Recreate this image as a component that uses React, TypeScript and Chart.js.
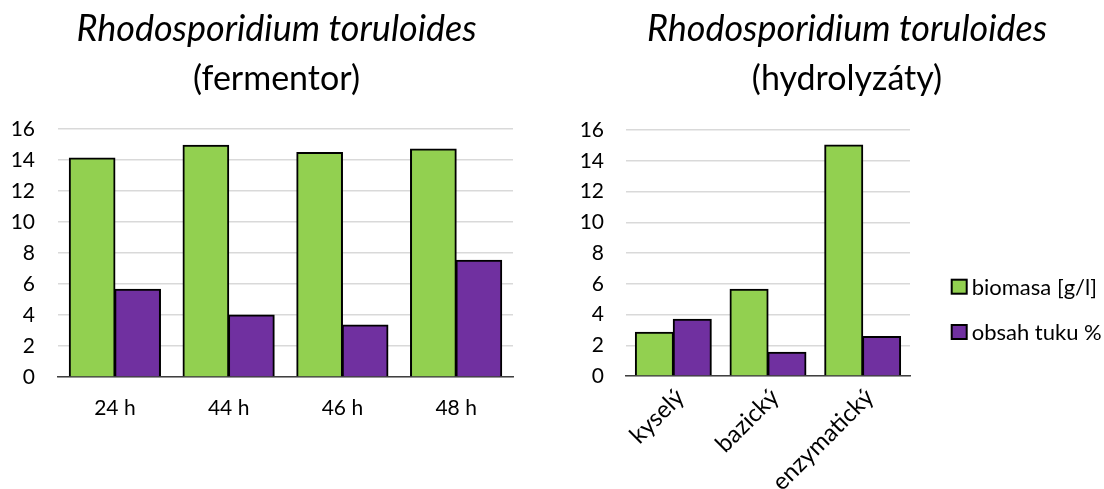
import React, { useEffect, useRef } from 'react';
import { Chart, registerables } from 'chart.js';

Chart.register(...registerables);

const FONT = 'Lato, "Open Sans", sans-serif';

// ---- data ----
const seriesNames = ['biomasa [g/l]', 'obsah tuku %'];
const seriesColors = ['#92D050', '#7030A0'];

const fermentorCategories = ['24 h', '44 h', '46 h', '48 h'];
const fermentorBiomass = [14.12, 14.94, 14.47, 14.7];
const fermentorFat = [5.65, 3.99, 3.35, 7.53];

const hydrolyzateCategories = ['kyselý', 'bazický', 'enzymatický'];
const hydrolyzateBiomass = [2.84, 5.64, 15.02];
const hydrolyzateFat = [3.69, 1.54, 2.56];

const yMin = 0;
const yMax = 16;
const yStep = 2;

const titleSpecies = 'Rhodosporidium toruloides';
const titleLeftSub = '(fermentor)';
const titleRightSub = '(hydrolyzáty)';

// ---- helpers ----
function makeTitlePlugin(cx: number, sub: string) {
  return {
    id: 'twoLineTitle',
    afterDraw(chart: any) {
      const ctx = chart.ctx;
      ctx.save();
      ctx.fillStyle = '#000000';
      ctx.textAlign = 'center';
      ctx.textBaseline = 'alphabetic';
      ctx.font = `italic 36px ${FONT}`;
      ctx.fillText(titleSpecies, cx, 41);
      ctx.font = `34px ${FONT}`;
      ctx.fillText(sub, cx, 90);
      ctx.restore();
    },
  };
}

function makeLegendPlugin(x: number, y0: number, gap: number) {
  return {
    id: 'sideLegend',
    afterDraw(chart: any) {
      const ctx = chart.ctx;
      ctx.save();
      chart.data.datasets.forEach((ds: any, i: number) => {
        const y = y0 + i * gap;
        ctx.fillStyle = ds.backgroundColor;
        ctx.fillRect(x, y - 7, 15, 14);
        ctx.strokeStyle = '#000000';
        ctx.lineWidth = 2;
        ctx.strokeRect(x, y - 7, 15, 14);
        ctx.fillStyle = '#000000';
        ctx.font = `22px ${FONT}`;
        ctx.textAlign = 'left';
        ctx.textBaseline = 'middle';
        ctx.fillText(ds.label, x + 20, y + 1);
      });
      ctx.restore();
    },
  };
}

function makeDatasets(a: number[], b: number[]) {
  return [a, b].map((data, i) => ({
    label: seriesNames[i],
    data,
    backgroundColor: seriesColors[i],
    borderColor: '#000000',
    borderWidth: 2,
    inflateAmount: 0.6,
    categoryPercentage: 0.8,
    barPercentage: 1.0,
  }));
}

function makeOptions(p: {
  yWidth: number;
  yPad: number;
  xHeight: number;
  xPad: number;
  xOffset: number;
  xFont: number;
  rotate: boolean;
  top: number;
  right: number;
}) {
  return {
    animation: false,
    responsive: false,
    maintainAspectRatio: false,
    layout: { padding: { top: p.top, right: p.right, left: 0, bottom: 0 } },
    plugins: {
      legend: { display: false },
      title: { display: false },
      tooltip: { enabled: false },
    },
    scales: {
      x: {
        grid: { display: false, drawTicks: false },
        border: { display: true, color: '#404040', width: 1.5 },
        ticks: {
          color: '#000000',
          font: { family: FONT, size: p.xFont },
          padding: p.xPad,
          labelOffset: p.xOffset,
          autoSkip: false,
          minRotation: p.rotate ? 45 : 0,
          maxRotation: p.rotate ? 45 : 0,
        },
        afterFit: (scale: any) => {
          scale.height = p.xHeight;
        },
      },
      y: {
        min: yMin,
        max: yMax,
        grid: { color: '#d9d9d9', lineWidth: 1.5, drawTicks: false },
        border: { display: false },
        ticks: {
          stepSize: yStep,
          color: '#000000',
          font: { family: FONT, size: 21 },
          padding: p.yPad,
        },
        afterFit: (scale: any) => {
          scale.width = p.yWidth;
        },
      },
    },
  };
}

function ChartCanvas(props: { left: number; width: number; height: number; build: () => any }) {
  const ref = useRef<HTMLCanvasElement | null>(null);
  useEffect(() => {
    if (!ref.current) return;
    const chart = new Chart(ref.current, props.build());
    return () => chart.destroy();
  }, []);
  return (
    <canvas
      ref={ref}
      width={props.width}
      height={props.height}
      style={{
        position: 'absolute',
        left: props.left,
        top: 0,
        width: props.width,
        height: props.height,
      }}
    />
  );
}

export default function App() {
  const H = 489;
  return (
    <div
      style={{
        position: 'absolute',
        left: 0,
        top: 0,
        width: 1104,
        height: H,
        overflow: 'hidden',
        background: '#ffffff',
      }}
    >
      <ChartCanvas
        left={0}
        width={540}
        height={H}
        build={() => ({
          type: 'bar',
          data: {
            labels: fermentorCategories,
            datasets: makeDatasets(fermentorBiomass, fermentorFat),
          },
          options: makeOptions({
            yWidth: 58,
            yPad: 23,
            xHeight: H - 377,
            xPad: 19,
            xOffset: 0,
            xFont: 21,
            rotate: false,
            top: 129,
            right: 540 - 513,
          }),
          plugins: [makeTitlePlugin(276.5, titleLeftSub)],
        })}
      />
      <ChartCanvas
        left={560}
        width={544}
        height={H}
        build={() => ({
          type: 'bar',
          data: {
            labels: hydrolyzateCategories,
            datasets: makeDatasets(hydrolyzateBiomass, hydrolyzateFat),
          },
          options: makeOptions({
            yWidth: 66,
            yPad: 22,
            xHeight: H - 376,
            xPad: 7,
            xOffset: 7,
            xFont: 24,
            rotate: true,
            top: 130,
            right: 544 - 350,
          }),
          plugins: [makeTitlePlugin(287, titleRightSub), makeLegendPlugin(391.7, 286.7, 45.3)],
        })}
      />
    </div>
  );
}
